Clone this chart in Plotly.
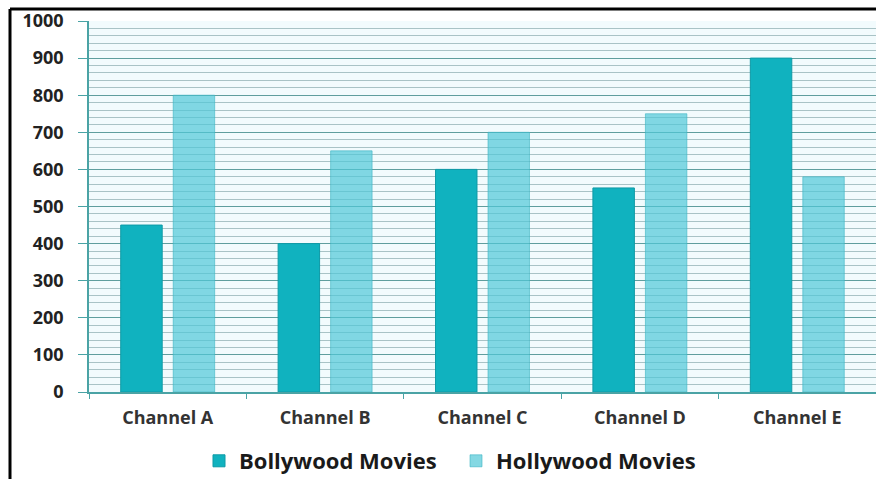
import plotly.graph_objects as go

channels = ["Channel A", "Channel B", "Channel C", "Channel D", "Channel E"]
bollywood = [450, 400, 600, 550, 900]
hollywood = [800, 650, 700, 750, 580]
y_ticks = [0, 100, 200, 300, 400, 500, 600, 700, 800, 900, 1000]

W, H = 876, 479
L, R, T, B = 89, 0, 21, 87
pw, ph = W - L - R, H - T - B

font_fam = "Open Sans, Lato, sans-serif"
leg_font = dict(size=22, family=font_fam, weight="bold", color="#1a1a1a")

fig = go.Figure()
fig.add_trace(go.Bar(name="Bollywood Movies", x=channels, y=bollywood, legend="legend", showlegend=True,
                     marker=dict(color="#10b2bf", line=dict(color="#0e9aa6", width=1))))
fig.add_trace(go.Bar(name="Hollywood Movies", x=channels, y=hollywood, legend="legend2", showlegend=True,
                     marker=dict(color="rgba(80,200,215,0.7)", line=dict(color="rgba(60,180,195,0.6)", width=1))))

leg_y = -0.186
fig.update_layout(
    width=W, height=H,
    margin=dict(l=L, r=R, t=T, b=B, autoexpand=False),
    showlegend=True,
    paper_bgcolor="white",
    plot_bgcolor="#f2fbfd",
    barmode="group",
    bargap=0.333,
    bargroupgap=0.21,
    font=dict(family=font_fam, color="#222222"),
    legend=dict(orientation="h", x=(199 - L) / pw, xanchor="left", y=leg_y, yanchor="middle",
                font=leg_font, itemwidth=30, bgcolor="rgba(0,0,0,0)", visible=True),
    legend2=dict(orientation="h", x=(456 - L) / pw, xanchor="left", y=leg_y, yanchor="middle",
                 font=leg_font, itemwidth=30, bgcolor="rgba(0,0,0,0)", visible=True),
    xaxis=dict(showgrid=False, showline=True, linecolor="#4aa3a5", linewidth=1.5,
               ticks="outside", tickson="boundaries", ticklen=5, tickcolor="#4aa3a5",
               ticklabelstandoff=9, automargin=False,
               tickfont=dict(size=18, family=font_fam, weight="bold", color="#333333")),
    yaxis=dict(range=[0, 1000], tickvals=y_ticks, showline=True, linecolor="#4aa3a5", linewidth=1.5,
               ticks="outside", ticklen=9, tickcolor="#4aa3a5",
               showgrid=True, gridcolor="#5f9e9e", gridwidth=1.2,
               zeroline=False, automargin=False,
               minor=dict(dtick=20, showgrid=True, gridcolor="#a9c3c6", gridwidth=1),
               tickfont=dict(size=18, family=font_fam, weight="bold", color="#222222"),
               ticklabelstandoff=11),
)

# outer frame (left and top edges of the picture's border)
x_left = (10 - L) / pw
y_top = 1 + (T - 9) / ph
y_bot = -(H - (T + ph) + 5) / ph
fig.add_shape(type="line", xref="paper", yref="paper", x0=x_left, x1=x_left, y0=y_bot, y1=y_top,
              line=dict(color="black", width=3))
fig.add_shape(type="line", xref="paper", yref="paper", x0=x_left, x1=1.05, y0=y_top, y1=y_top,
              line=dict(color="black", width=3))

fig.write_html("out.html")
